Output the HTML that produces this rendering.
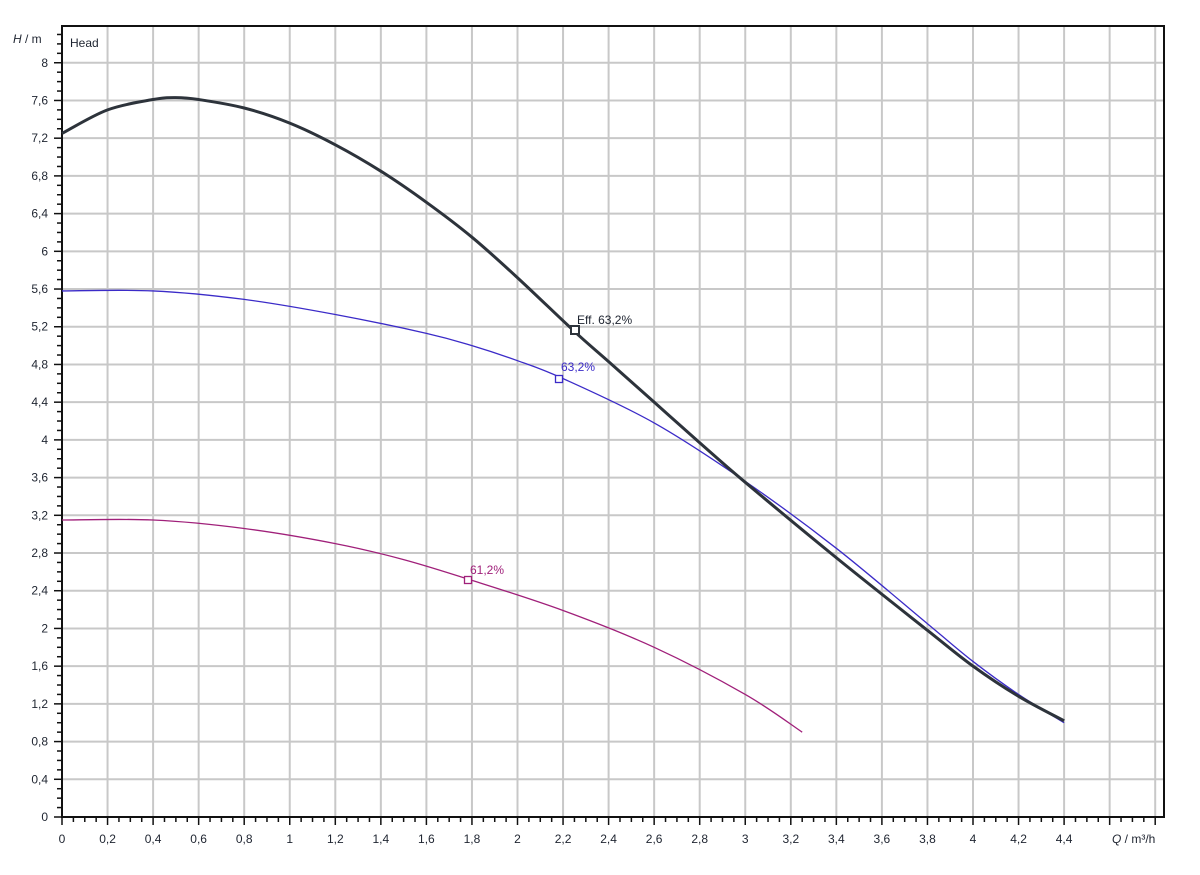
<!DOCTYPE html>
<html><head><meta charset="utf-8"><style>
body{margin:0;background:#fff;width:1200px;height:875px;overflow:hidden}
svg{display:block}
text{font-family:"Liberation Sans",sans-serif;font-size:12px;fill:#1e2430}
</style></head><body>
<svg id="s" width="1200" height="875" xmlns="http://www.w3.org/2000/svg"></svg>
<script>
const s=document.getElementById('s');
const X0=62,XS=227.75,Y0=817,YS=94.28;
const px=x=>X0+x*XS, py=y=>Y0-y*YS;
let h='';
for(let i=1;i<=24;i++){const x=px(i*0.2);h+=`<line x1="${x}" y1="26" x2="${x}" y2="817" stroke="#c8c8c8" stroke-width="2"/>`;}
for(let i=1;i<=20;i++){const y=py(i*0.4);h+=`<line x1="62" y1="${y}" x2="1164" y2="${y}" stroke="#c8c8c8" stroke-width="2"/>`;}
h+=`<rect x="62" y="26" width="1102" height="791" fill="none" stroke="#111" stroke-width="2"/>`;
for(let i=0;i<=84;i++){const y=py(i*0.1);if(y<28)break;const major=i%4==0;h+=`<line x1="${major?54:57}" y1="${y}" x2="62" y2="${y}" stroke="#111" stroke-width="1.5"/>`;
if(major){h+=`<text x="48" y="${y+4}" text-anchor="end">${(i/10).toString().replace('.',',')}</text>`;}}
for(let i=0;i<=97;i++){const x=px(i*0.05);if(x>1165)break;const major=i%4==0;h+=`<line x1="${x}" y1="817" x2="${x}" y2="${major?825:822}" stroke="#111" stroke-width="1.5"/>`;
if(major&&i<=88){h+=`<text x="${x}" y="843" text-anchor="middle">${(i/20).toString().replace('.',',')}</text>`;}}
h+=`<text x="1112" y="843"><tspan font-style="italic">Q</tspan> / m³/h</text>`;
h+=`<text x="13" y="43"><tspan font-style="italic">H</tspan> / m</text>`;
h+=`<text x="70" y="47">Head</text>`;
function cr(pts){pts=pts.map(p=>[px(p[0]),py(p[1])]);let d=`M${pts[0][0]},${pts[0][1]}`;
for(let i=0;i<pts.length-1;i++){const p0=pts[i-1]||pts[i],p1=pts[i],p2=pts[i+1],p3=pts[i+2]||p2;
d+=` C${p1[0]+(p2[0]-p0[0])/6},${p1[1]+(p2[1]-p0[1])/6} ${p2[0]-(p3[0]-p1[0])/6},${p2[1]-(p3[1]-p1[1])/6} ${p2[0]},${p2[1]}`;}return d;}
const blk=[[0,7.25],[0.2,7.5],[0.4,7.61],[0.5,7.63],[0.6,7.61],[0.8,7.52],[1,7.36],[1.2,7.13],[1.4,6.85],[1.6,6.52],[1.8,6.15],[2,5.72],[2.25,5.15],[2.4,4.83],[2.6,4.40],[2.8,3.97],[3,3.55],[3.4,2.75],[3.8,1.98],[4,1.6],[4.2,1.28],[4.4,1.02]];
const blu=[[0,5.58],[0.4,5.58],[0.8,5.49],[1.2,5.33],[1.6,5.13],[1.8,5.0],[2.0,4.84],[2.2,4.65],[2.6,4.18],[3,3.56],[3.4,2.85],[3.8,2.05],[4,1.65],[4.2,1.3],[4.4,1.0]];
const mag=[[0,3.15],[0.4,3.15],[0.8,3.06],[1.2,2.9],[1.5,2.73],[1.8,2.51],[2.2,2.19],[2.6,1.8],[3.0,1.3],[3.25,0.9]];
h+=`<path d="${cr(mag)}" fill="none" stroke="#a0207a" stroke-width="1.3"/>`;
h+=`<path d="${cr(blu)}" fill="none" stroke="#3b2bc8" stroke-width="1.3"/>`;
h+=`<path d="${cr(blk)}" fill="none" stroke="#2d333b" stroke-width="3"/>`;
h+=`<rect x="571" y="326" width="8" height="8" fill="#fff" stroke="#2d333b" stroke-width="2"/><text x="577" y="324" fill="#333">Eff.  63,2%</text>`;
h+=`<rect x="555.5" y="375.5" width="7" height="7" fill="#fff" stroke="#3b2bc8" stroke-width="1.3"/><text x="561" y="371" style="fill:#3b2bc8">63,2%</text>`;
h+=`<rect x="464.5" y="576.5" width="7" height="7" fill="#fff" stroke="#a0207a" stroke-width="1.3"/><text x="470" y="574" style="fill:#a0207a">61,2%</text>`;
s.innerHTML=h;
</script>
</body></html>
